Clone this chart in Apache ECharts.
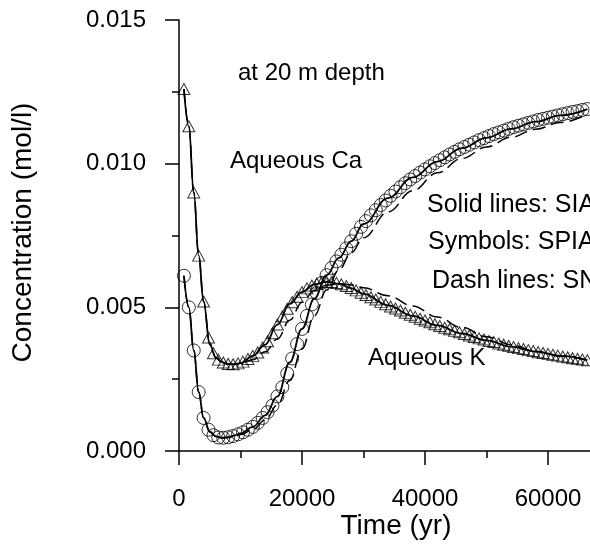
<!DOCTYPE html>
<html>
<head>
<meta charset="utf-8">
<script src="https://cdn.jsdelivr.net/npm/echarts/dist/echarts.min.js"></script>
<style>html,body{margin:0;padding:0;background:#fff;}#c{width:590px;height:548px;}</style>
</head>
<body>
<div id="c"></div>
<script>
// Symbol (SPIA) sample times, yr
var symTimes = [800,1600,2400,3200,4000,4800,5600,6400,7200,8000,8800,9600,10400,11200,12000,12800,13600,14400,15200,16000,16800,17600,18400,19200,20000,20800,21600,22400,23200,24000,24800,25600,26400,27200,28000,28800,29600,30400,31200,32000,32800,33600,34400,35200,36000,36800,37600,38400,39200,40000,40800,41600,42400,43200,44000,44800,45600,46400,47200,48000,48800,49600,50400,51200,52000,52800,53600,54400,55200,56000,56800,57600,58400,59200,60000,60800,61600,62400,63200,64000,64800,65600,66400];
// Triangles (SPIA), mol/l
var triSym = [0.01260,0.01130,0.00900,0.00680,0.00520,0.00395,0.00340,0.00318,0.00308,0.00303,0.00302,0.00305,0.00311,0.00320,0.00331,0.00343,0.00360,0.00382,0.00410,0.00440,0.00468,0.00495,0.00518,0.00537,0.00553,0.00566,0.00576,0.00583,0.00587,0.00589,0.00588,0.00585,0.00580,0.00574,0.00567,0.00559,0.00551,0.00543,0.00535,0.00527,0.00519,0.00511,0.00503,0.00496,0.00489,0.00481,0.00474,0.00467,0.00460,0.00454,0.00448,0.00441,0.00435,0.00429,0.00424,0.00418,0.00413,0.00407,0.00402,0.00397,0.00392,0.00388,0.00383,0.00379,0.00374,0.00370,0.00366,0.00362,0.00358,0.00355,0.00351,0.00348,0.00344,0.00341,0.00338,0.00335,0.00332,0.00329,0.00326,0.00323,0.00321,0.00318,0.00316];
// Circles (SPIA), mol/l
var circSym = [0.00610,0.00500,0.00350,0.00205,0.00115,0.00074,0.00055,0.00047,0.00046,0.00048,0.00052,0.00058,0.00065,0.00074,0.00084,0.00098,0.00115,0.00135,0.00158,0.00190,0.00222,0.00270,0.00322,0.00372,0.00425,0.00470,0.00510,0.00550,0.00585,0.00612,0.00637,0.00660,0.00683,0.00705,0.00730,0.00756,0.00780,0.00800,0.00820,0.00838,0.00856,0.00872,0.00888,0.00903,0.00918,0.00932,0.00945,0.00957,0.00969,0.00980,0.00991,0.01002,0.01012,0.01022,0.01032,0.01041,0.01050,0.01058,0.01066,0.01074,0.01082,0.01089,0.01096,0.01103,0.01109,0.01115,0.01121,0.01127,0.01132,0.01137,0.01142,0.01147,0.01152,0.01156,0.01160,0.01164,0.01168,0.01172,0.01176,0.01180,0.01183,0.01187,0.01190];
// Line sample times (SIA solid, SNIA dashed), yr
var lineTimes = [800,1600,2400,3200,4000,5000,6000,7000,8000,9000,10000,12000,14000,16000,18000,20000,22000,24000,26000,28000,30000,34000,38000,42000,46000,50000,54000,58000,62000,66400];
var triSolid  = [0.01260,0.01130,0.00900,0.00680,0.00520,0.00370,0.00325,0.00309,0.00303,0.00302,0.00306,0.00331,0.00370,0.00440,0.00512,0.00553,0.00580,0.00589,0.00582,0.00567,0.00547,0.00507,0.00470,0.00437,0.00409,0.00385,0.00363,0.00346,0.00331,0.00316];
var circSolid = [0.00610,0.00500,0.00350,0.00205,0.00115,0.00068,0.00051,0.00046,0.00048,0.00054,0.00061,0.00084,0.00124,0.00190,0.00308,0.00425,0.00530,0.00612,0.00672,0.00730,0.00790,0.00880,0.00952,0.01007,0.01054,0.01090,0.01121,0.01146,0.01168,0.01190];
var triDash   = [0.01260,0.01130,0.00900,0.00680,0.00520,0.00375,0.00325,0.00308,0.00302,0.00301,0.00304,0.00318,0.00345,0.00390,0.00455,0.00518,0.00558,0.00577,0.00582,0.00578,0.00568,0.00540,0.00505,0.00466,0.00430,0.00398,0.00370,0.00347,0.00330,0.00316];
var circDash  = [0.00610,0.00500,0.00350,0.00205,0.00115,0.00066,0.00050,0.00046,0.00047,0.00051,0.00057,0.00075,0.00108,0.00160,0.00245,0.00355,0.00470,0.00560,0.00630,0.00690,0.00742,0.00832,0.00906,0.00968,0.01018,0.01058,0.01092,0.01120,0.01143,0.01172];
// Axis ticks
var xTicks = [0,20000,40000,60000];
var yTicks = [0.000,0.005,0.010,0.015];

function pairs(t, v){ return t.map(function(x,i){ return [x, v[i]]; }); }

var FONT = 'Liberation Sans, Arial, sans-serif';
var chart = echarts.init(document.getElementById('c'), null, {renderer:'canvas'});
var axisCommon = {
  axisLine:{show:true, onZero:false, lineStyle:{color:'#000', width:1.5}},
  axisTick:{show:true, inside:false, length:14, lineStyle:{color:'#000', width:1.5}},
  minorTick:{show:true, splitNumber:2, length:7, lineStyle:{color:'#000', width:1.5}},
  splitLine:{show:false}, minorSplitLine:{show:false}
};
var lineBase = {type:'line', showSymbol:false, symbol:'none', smooth:0.4, smoothMonotone:'x', silent:true, animation:false, z:3};
var symBase = {type:'scatter', silent:true, animation:false, z:4,
  itemStyle:{color:'rgba(0,0,0,0)', borderColor:'#000', borderWidth:1}};

chart.setOption({
  animation:false,
  backgroundColor:'#fff',
  grid:{left:179, top:20, right:-81, bottom:97, containLabel:false, outerBoundsMode:'none'},
  xAxis:Object.assign({type:'value', min:xTicks[0], max:80000, interval:xTicks[1]-xTicks[0],
    axisLabel:{margin:36, fontSize:24, color:'#000', fontFamily:FONT, formatter:function(v){return String(v);}}}, axisCommon),
  yAxis:Object.assign({type:'value', min:yTicks[0], max:yTicks[3], interval:yTicks[1]-yTicks[0],
    axisLabel:{margin:33, fontSize:24, color:'#000', fontFamily:FONT, formatter:function(v){return v.toFixed(3);}}}, axisCommon),
  series:[
    Object.assign({name:'SNIA K', data:pairs(lineTimes, triDash), lineStyle:{color:'#000', width:1.5, type:[13,6]}}, lineBase),
    Object.assign({name:'SNIA Ca', data:pairs(lineTimes, circDash), lineStyle:{color:'#000', width:1.5, type:[13,6]}}, lineBase),
    Object.assign({name:'SIA K', data:pairs(lineTimes, triSolid), lineStyle:{color:'#000', width:1.8}}, lineBase),
    Object.assign({name:'SIA Ca', data:pairs(lineTimes, circSolid), lineStyle:{color:'#000', width:1.8}}, lineBase),
    Object.assign({name:'SPIA K', data:pairs(symTimes, triSym), symbol:'triangle', symbolSize:[12,11]}, symBase),
    Object.assign({name:'SPIA Ca', data:pairs(symTimes, circSym), symbol:'circle', symbolSize:13}, symBase)
  ],
  graphic:[
    {type:'text', x:23, y:232.5, rotation:Math.PI/2, style:{text:'Concentration (mol/l)', fontSize:28, fontFamily:FONT, fill:'#000', textAlign:'center', textVerticalAlign:'middle'}},
    {type:'text', x:396, y:526, style:{text:'Time (yr)', fontSize:28, fontFamily:FONT, fill:'#000', textAlign:'center', textVerticalAlign:'middle'}},
    {type:'text', x:238, y:73.5, style:{text:'at 20 m depth', fontSize:24, fontFamily:FONT, fill:'#000', textAlign:'left', textVerticalAlign:'middle'}},
    {type:'text', x:230, y:161, style:{text:'Aqueous Ca', fontSize:24, fontFamily:FONT, fill:'#000', textAlign:'left', textVerticalAlign:'middle'}},
    {type:'text', x:427, y:205.5, style:{text:'Solid lines: SIA', fontSize:25, fontFamily:FONT, fill:'#000', textAlign:'left', textVerticalAlign:'middle'}},
    {type:'text', x:428, y:242, style:{text:'Symbols: SPIA', fontSize:25, fontFamily:FONT, fill:'#000', textAlign:'left', textVerticalAlign:'middle'}},
    {type:'text', x:432, y:281.5, style:{text:'Dash lines: SNIA', fontSize:25, fontFamily:FONT, fill:'#000', textAlign:'left', textVerticalAlign:'middle'}},
    {type:'text', x:368, y:358.5, style:{text:'Aqueous K', fontSize:24, fontFamily:FONT, fill:'#000', textAlign:'left', textVerticalAlign:'middle'}}
  ]
});
</script>
</body>
</html>
